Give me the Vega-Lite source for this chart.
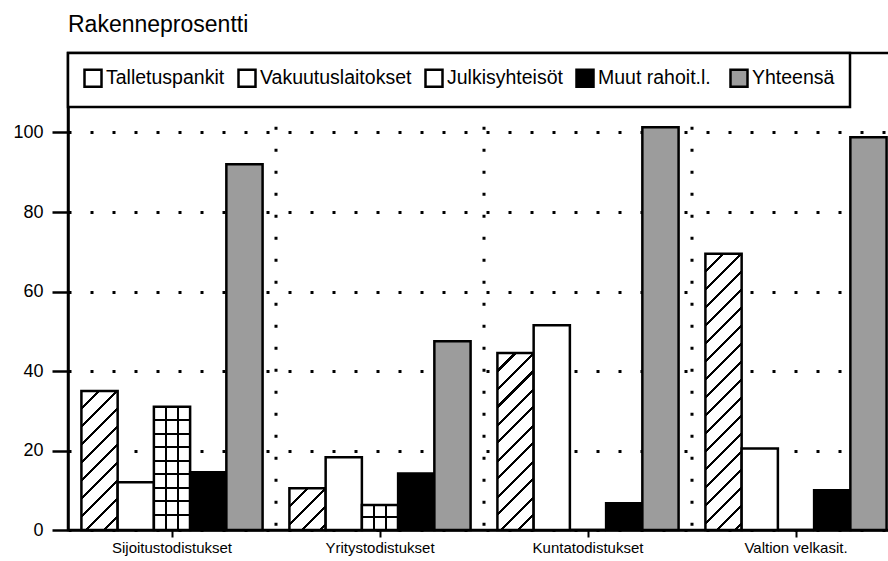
{
  "$schema": "https://vega.github.io/schema/vega-lite/v6.json",
  "autosize": "none",
  "width": 822,
  "height": 477,
  "padding": {"left": 68, "top": 53, "right": -2, "bottom": 31},
  "background": "white",
  "config": {"view": {"stroke": "black", "strokeWidth": 2.5}, "legend": {"strokeWidth": 2.5}},
  "title": {"text": "Rakenneprosentti", "anchor": "start", "frame": "group", "fontSize": 23, "font": "Liberation Sans", "fontWeight": "normal", "color": "black", "offset": 15, "dx": 0},
  "data": {"values": [
    {"kategoria": "Sijoitustodistukset", "sarja": "Talletuspankit", "arvo": 35},
    {"kategoria": "Sijoitustodistukset", "sarja": "Vakuutuslaitokset", "arvo": 12},
    {"kategoria": "Sijoitustodistukset", "sarja": "Julkisyhteisöt", "arvo": 31},
    {"kategoria": "Sijoitustodistukset", "sarja": "Muut  rahoit.l.", "arvo": 14.5},
    {"kategoria": "Sijoitustodistukset", "sarja": "Yhteensä", "arvo": 92},
    {"kategoria": "Yritystodistukset", "sarja": "Talletuspankit", "arvo": 10.5},
    {"kategoria": "Yritystodistukset", "sarja": "Vakuutuslaitokset", "arvo": 18.3},
    {"kategoria": "Yritystodistukset", "sarja": "Julkisyhteisöt", "arvo": 6.3},
    {"kategoria": "Yritystodistukset", "sarja": "Muut  rahoit.l.", "arvo": 14.2},
    {"kategoria": "Yritystodistukset", "sarja": "Yhteensä", "arvo": 47.5},
    {"kategoria": "Kuntatodistukset", "sarja": "Talletuspankit", "arvo": 44.5},
    {"kategoria": "Kuntatodistukset", "sarja": "Vakuutuslaitokset", "arvo": 51.5},
    {"kategoria": "Kuntatodistukset", "sarja": "Julkisyhteisöt", "arvo": 0},
    {"kategoria": "Kuntatodistukset", "sarja": "Muut  rahoit.l.", "arvo": 6.7},
    {"kategoria": "Kuntatodistukset", "sarja": "Yhteensä", "arvo": 101.3},
    {"kategoria": "Valtion velkasit.", "sarja": "Talletuspankit", "arvo": 69.5},
    {"kategoria": "Valtion velkasit.", "sarja": "Vakuutuslaitokset", "arvo": 20.5},
    {"kategoria": "Valtion velkasit.", "sarja": "Julkisyhteisöt", "arvo": 0},
    {"kategoria": "Valtion velkasit.", "sarja": "Muut  rahoit.l.", "arvo": 10},
    {"kategoria": "Valtion velkasit.", "sarja": "Yhteensä", "arvo": 98.8}
  ]},
  "layer": [
    {
      "transform": [{"filter": "datum.sarja === 'Yhteensä' && datum.kategoria !== 'Sijoitustodistukset'"}],
      "mark": {"type": "rule", "color": "black", "strokeWidth": 3, "strokeDash": [3, 19]},
      "encoding": {
        "x": {"field": "kategoria", "type": "nominal", "bandPosition": 0,
              "sort": ["Sijoitustodistukset", "Yritystodistukset", "Kuntatodistukset", "Valtion velkasit."],
              "scale": {"paddingInner": 0, "paddingOuter": 0, "range": [0, 832]}},
        "y": {"datum": 107, "type": "quantitative"},
        "y2": {"datum": 0}
      }
    },
    {
      "mark": {"type": "bar", "stroke": "black", "strokeWidth": 2.5, "opacity": 1},
      "encoding": {
        "x": {"field": "kategoria", "type": "nominal",
              "sort": ["Sijoitustodistukset", "Yritystodistukset", "Kuntatodistukset", "Valtion velkasit."],
              "scale": {"paddingInner": 0, "paddingOuter": 0, "range": [0, 832]},
              "axis": {"title": null, "bandPosition": 0.5, "ticks": true, "labelAlign": "center", "labelAngle": 0, "labelFontSize": 15, "labelFont": "Liberation Sans", "labelColor": "black", "tickSize": 7, "tickWidth": 2, "tickColor": "black", "labelPadding": 10, "domainWidth": 2.5, "domainColor": "black", "grid": false}},
        "xOffset": {"field": "sarja", "type": "nominal",
              "scale": {"domain": ["Talletuspankit", "Vakuutuslaitokset", "Julkisyhteisöt", "Muut  rahoit.l.", "Yhteensä"], "paddingInner": 0, "paddingOuter": 0.37}},
        "y": {"field": "arvo", "type": "quantitative", "stack": null,
              "scale": {"domain": [0, 120], "nice": false},
              "axis": {"values": [0, 20, 40, 60, 80, 100], "title": null, "grid": true, "gridDash": [3, 19], "gridWidth": 3, "gridColor": "black", "tickSize": 16, "tickWidth": 2.5, "tickColor": "black", "labelFontSize": 18, "labelFont": "Liberation Sans", "labelColor": "black", "labelPadding": 9, "domainWidth": 2.5, "domainColor": "black"}},
        "fill": {
          "field": "sarja", "type": "nominal",
          "scale": {"domain": ["Talletuspankit", "Vakuutuslaitokset", "Julkisyhteisöt", "Muut  rahoit.l.", "Yhteensä"],
                    "range": ["white", "white", "white", "black", "#9c9c9c"]},
          "legend": {"orient": "none", "legendX": 0, "legendY": 0, "direction": "horizontal", "title": null, "strokeColor": "black", "fillColor": "white", "padding": 15, "symbolType": "square", "symbolSize": 289, "symbolStrokeColor": "black", "symbolStrokeWidth": 2.5, "symbolOpacity": 1, "labelFontSize": 19.5, "labelFont": "Liberation Sans", "labelColor": "black", "columnPadding": 8, "labelOffset": 3, "labelLimit": 300},
          "condition": [
            {"test": "datum.sarja === 'Talletuspankit' && datum.kategoria === 'Sijoitustodistukset'",
             "value": {"gradient": "linear", "x1": 0, "y1": 0, "x2": 0.3076, "y2": 1.1808, "stops": [
               {"offset": 0, "color": "#fff"},
               {"offset": 0.094, "color": "#fff"}, {"offset": 0.094, "color": "#000"}, {"offset": 0.111, "color": "#000"}, {"offset": 0.111, "color": "#fff"},
               {"offset": 0.197, "color": "#fff"}, {"offset": 0.197, "color": "#000"}, {"offset": 0.214, "color": "#000"}, {"offset": 0.214, "color": "#fff"},
               {"offset": 0.299, "color": "#fff"}, {"offset": 0.299, "color": "#000"}, {"offset": 0.316, "color": "#000"}, {"offset": 0.316, "color": "#fff"},
               {"offset": 0.402, "color": "#fff"}, {"offset": 0.402, "color": "#000"}, {"offset": 0.419, "color": "#000"}, {"offset": 0.419, "color": "#fff"},
               {"offset": 0.505, "color": "#fff"}, {"offset": 0.505, "color": "#000"}, {"offset": 0.522, "color": "#000"}, {"offset": 0.522, "color": "#fff"},
               {"offset": 0.607, "color": "#fff"}, {"offset": 0.607, "color": "#000"}, {"offset": 0.624, "color": "#000"}, {"offset": 0.624, "color": "#fff"},
               {"offset": 0.710, "color": "#fff"}, {"offset": 0.710, "color": "#000"}, {"offset": 0.727, "color": "#000"}, {"offset": 0.727, "color": "#fff"},
               {"offset": 0.812, "color": "#fff"}, {"offset": 0.812, "color": "#000"}, {"offset": 0.830, "color": "#000"}, {"offset": 0.830, "color": "#fff"},
               {"offset": 0.915, "color": "#fff"}, {"offset": 0.915, "color": "#000"}, {"offset": 0.932, "color": "#000"}, {"offset": 0.932, "color": "#fff"},
               {"offset": 1, "color": "#fff"}]}},
            {"test": "datum.sarja === 'Talletuspankit' && datum.kategoria === 'Yritystodistukset'",
             "value": {"gradient": "linear", "x1": 0, "y1": 0, "x2": 0.9258, "y2": 1.0652, "stops": [
               {"offset": 0, "color": "#fff"},
               {"offset": 0.212, "color": "#fff"}, {"offset": 0.212, "color": "#000"}, {"offset": 0.250, "color": "#000"}, {"offset": 0.250, "color": "#fff"},
               {"offset": 0.443, "color": "#fff"}, {"offset": 0.443, "color": "#000"}, {"offset": 0.481, "color": "#000"}, {"offset": 0.481, "color": "#fff"},
               {"offset": 0.673, "color": "#fff"}, {"offset": 0.673, "color": "#000"}, {"offset": 0.712, "color": "#000"}, {"offset": 0.712, "color": "#fff"},
               {"offset": 0.904, "color": "#fff"}, {"offset": 0.904, "color": "#000"}, {"offset": 0.943, "color": "#000"}, {"offset": 0.943, "color": "#fff"},
               {"offset": 1, "color": "#fff"}]}},
            {"test": "datum.sarja === 'Talletuspankit' && datum.kategoria === 'Kuntatodistukset'",
             "value": {"gradient": "linear", "x1": 0, "y1": 0, "x2": 0.2368, "y2": 1.1561, "stops": [
               {"offset": 0, "color": "#fff"},
               {"offset": 0.077, "color": "#fff"}, {"offset": 0.077, "color": "#000"}, {"offset": 0.092, "color": "#000"}, {"offset": 0.092, "color": "#fff"},
               {"offset": 0.162, "color": "#fff"}, {"offset": 0.162, "color": "#000"}, {"offset": 0.176, "color": "#000"}, {"offset": 0.176, "color": "#fff"},
               {"offset": 0.246, "color": "#fff"}, {"offset": 0.246, "color": "#000"}, {"offset": 0.261, "color": "#000"}, {"offset": 0.261, "color": "#fff"},
               {"offset": 0.331, "color": "#fff"}, {"offset": 0.331, "color": "#000"}, {"offset": 0.345, "color": "#000"}, {"offset": 0.345, "color": "#fff"},
               {"offset": 0.415, "color": "#fff"}, {"offset": 0.415, "color": "#000"}, {"offset": 0.429, "color": "#000"}, {"offset": 0.429, "color": "#fff"},
               {"offset": 0.500, "color": "#fff"}, {"offset": 0.500, "color": "#000"}, {"offset": 0.514, "color": "#000"}, {"offset": 0.514, "color": "#fff"},
               {"offset": 0.584, "color": "#fff"}, {"offset": 0.584, "color": "#000"}, {"offset": 0.598, "color": "#000"}, {"offset": 0.598, "color": "#fff"},
               {"offset": 0.669, "color": "#fff"}, {"offset": 0.669, "color": "#000"}, {"offset": 0.683, "color": "#000"}, {"offset": 0.683, "color": "#fff"},
               {"offset": 0.753, "color": "#fff"}, {"offset": 0.753, "color": "#000"}, {"offset": 0.767, "color": "#000"}, {"offset": 0.767, "color": "#fff"},
               {"offset": 0.838, "color": "#fff"}, {"offset": 0.838, "color": "#000"}, {"offset": 0.852, "color": "#000"}, {"offset": 0.852, "color": "#fff"},
               {"offset": 0.922, "color": "#fff"}, {"offset": 0.922, "color": "#000"}, {"offset": 0.936, "color": "#000"}, {"offset": 0.936, "color": "#fff"},
               {"offset": 1, "color": "#fff"}]}},
            {"test": "datum.sarja === 'Talletuspankit' && datum.kategoria === 'Valtion velkasit.'",
             "value": {"gradient": "linear", "x1": 0, "y1": 0, "x2": 0.1458, "y2": 1.1119, "stops": [
               {"offset": 0, "color": "#fff"},
               {"offset": 0.0528, "color": "#fff"}, {"offset": 0.0528, "color": "#000"}, {"offset": 0.0624, "color": "#000"}, {"offset": 0.0624, "color": "#fff"},
               {"offset": 0.1104, "color": "#fff"}, {"offset": 0.1104, "color": "#000"}, {"offset": 0.1200, "color": "#000"}, {"offset": 0.1200, "color": "#fff"},
               {"offset": 0.1680, "color": "#fff"}, {"offset": 0.1680, "color": "#000"}, {"offset": 0.1776, "color": "#000"}, {"offset": 0.1776, "color": "#fff"},
               {"offset": 0.2256, "color": "#fff"}, {"offset": 0.2256, "color": "#000"}, {"offset": 0.2352, "color": "#000"}, {"offset": 0.2352, "color": "#fff"},
               {"offset": 0.2832, "color": "#fff"}, {"offset": 0.2832, "color": "#000"}, {"offset": 0.2928, "color": "#000"}, {"offset": 0.2928, "color": "#fff"},
               {"offset": 0.3408, "color": "#fff"}, {"offset": 0.3408, "color": "#000"}, {"offset": 0.3504, "color": "#000"}, {"offset": 0.3504, "color": "#fff"},
               {"offset": 0.3984, "color": "#fff"}, {"offset": 0.3984, "color": "#000"}, {"offset": 0.4080, "color": "#000"}, {"offset": 0.4080, "color": "#fff"},
               {"offset": 0.4560, "color": "#fff"}, {"offset": 0.4560, "color": "#000"}, {"offset": 0.4656, "color": "#000"}, {"offset": 0.4656, "color": "#fff"},
               {"offset": 0.5136, "color": "#fff"}, {"offset": 0.5136, "color": "#000"}, {"offset": 0.5232, "color": "#000"}, {"offset": 0.5232, "color": "#fff"},
               {"offset": 0.5712, "color": "#fff"}, {"offset": 0.5712, "color": "#000"}, {"offset": 0.5808, "color": "#000"}, {"offset": 0.5808, "color": "#fff"},
               {"offset": 0.6288, "color": "#fff"}, {"offset": 0.6288, "color": "#000"}, {"offset": 0.6384, "color": "#000"}, {"offset": 0.6384, "color": "#fff"},
               {"offset": 0.6864, "color": "#fff"}, {"offset": 0.6864, "color": "#000"}, {"offset": 0.6960, "color": "#000"}, {"offset": 0.6960, "color": "#fff"},
               {"offset": 0.7440, "color": "#fff"}, {"offset": 0.7440, "color": "#000"}, {"offset": 0.7536, "color": "#000"}, {"offset": 0.7536, "color": "#fff"},
               {"offset": 0.8016, "color": "#fff"}, {"offset": 0.8016, "color": "#000"}, {"offset": 0.8112, "color": "#000"}, {"offset": 0.8112, "color": "#fff"},
               {"offset": 0.8592, "color": "#fff"}, {"offset": 0.8592, "color": "#000"}, {"offset": 0.8688, "color": "#000"}, {"offset": 0.8688, "color": "#fff"},
               {"offset": 0.9168, "color": "#fff"}, {"offset": 0.9168, "color": "#000"}, {"offset": 0.9264, "color": "#000"}, {"offset": 0.9264, "color": "#fff"},
               {"offset": 0.9744, "color": "#fff"}, {"offset": 0.9744, "color": "#000"}, {"offset": 0.9840, "color": "#000"}, {"offset": 0.9840, "color": "#fff"},
               {"offset": 1, "color": "#fff"}]}},
            {"test": "datum.sarja === 'Julkisyhteisöt' && datum.kategoria === 'Sijoitustodistukset'",
             "value": {"gradient": "linear", "x1": 0, "y1": 0, "x2": 0, "y2": 1, "stops": [
               {"offset": 0, "color": "#fff"},
               {"offset": 0.101, "color": "#fff"}, {"offset": 0.101, "color": "#000"}, {"offset": 0.118, "color": "#000"}, {"offset": 0.118, "color": "#fff"},
               {"offset": 0.211, "color": "#fff"}, {"offset": 0.211, "color": "#000"}, {"offset": 0.227, "color": "#000"}, {"offset": 0.227, "color": "#fff"},
               {"offset": 0.321, "color": "#fff"}, {"offset": 0.321, "color": "#000"}, {"offset": 0.337, "color": "#000"}, {"offset": 0.337, "color": "#fff"},
               {"offset": 0.430, "color": "#fff"}, {"offset": 0.430, "color": "#000"}, {"offset": 0.446, "color": "#000"}, {"offset": 0.446, "color": "#fff"},
               {"offset": 0.540, "color": "#fff"}, {"offset": 0.540, "color": "#000"}, {"offset": 0.556, "color": "#000"}, {"offset": 0.556, "color": "#fff"},
               {"offset": 0.649, "color": "#fff"}, {"offset": 0.649, "color": "#000"}, {"offset": 0.666, "color": "#000"}, {"offset": 0.666, "color": "#fff"},
               {"offset": 0.759, "color": "#fff"}, {"offset": 0.759, "color": "#000"}, {"offset": 0.775, "color": "#000"}, {"offset": 0.775, "color": "#fff"},
               {"offset": 0.868, "color": "#fff"}, {"offset": 0.868, "color": "#000"}, {"offset": 0.885, "color": "#000"}, {"offset": 0.885, "color": "#fff"},
               {"offset": 1, "color": "#fff"}]}},
            {"test": "datum.sarja === 'Julkisyhteisöt'",
             "value": {"gradient": "linear", "x1": 0, "y1": 0, "x2": 0, "y2": 1, "stops": [
               {"offset": 0, "color": "#fff"},
               {"offset": 0.46, "color": "#fff"}, {"offset": 0.46, "color": "#000"}, {"offset": 0.54, "color": "#000"}, {"offset": 0.54, "color": "#fff"},
               {"offset": 1, "color": "#fff"}]}}
          ]
        }
      }
    },
    {
      "transform": [{"filter": "datum.sarja === 'Julkisyhteisöt'"}],
      "mark": {"type": "bar", "strokeWidth": 0, "fill": {"gradient": "linear", "x1": 0, "y1": 0, "x2": 1, "y2": 0, "stops": [
        {"offset": 0, "color": "rgba(0,0,0,0)"},
        {"offset": 0.306, "color": "rgba(0,0,0,0)"}, {"offset": 0.306, "color": "#000"}, {"offset": 0.361, "color": "#000"}, {"offset": 0.361, "color": "rgba(0,0,0,0)"},
        {"offset": 0.639, "color": "rgba(0,0,0,0)"}, {"offset": 0.639, "color": "#000"}, {"offset": 0.694, "color": "#000"}, {"offset": 0.694, "color": "rgba(0,0,0,0)"},
        {"offset": 1, "color": "rgba(0,0,0,0)"}]}},
      "encoding": {
        "x": {"field": "kategoria", "type": "nominal",
              "sort": ["Sijoitustodistukset", "Yritystodistukset", "Kuntatodistukset", "Valtion velkasit."],
              "scale": {"paddingInner": 0, "paddingOuter": 0, "range": [0, 832]}},
        "xOffset": {"field": "sarja", "type": "nominal"},
        "y": {"field": "arvo", "type": "quantitative", "stack": null}
      }
    }
  ]
}
